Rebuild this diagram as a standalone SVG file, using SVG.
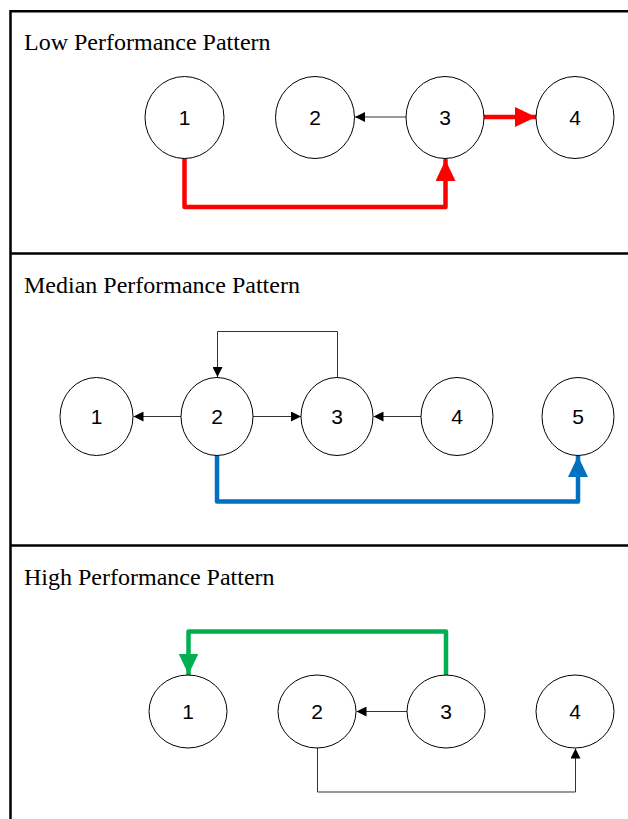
<svg xmlns="http://www.w3.org/2000/svg" width="628" height="819" viewBox="0 0 628 819">
<style>
.frame{stroke:#000;stroke-width:2.5;fill:none}
.title{font-family:"Liberation Serif","Times New Roman",serif;font-size:24px;fill:#000}
.node ellipse{fill:#fff;stroke:#000;stroke-width:1}
.node text{font-family:"Liberation Sans",Arial,sans-serif;font-size:21px;fill:#000;text-anchor:middle;dominant-baseline:central}
.thin{stroke:#333;stroke-width:1;fill:none}
.thick{stroke-width:4.5;fill:none;stroke-linejoin:round;stroke-linecap:round}
</style>
<defs>
<marker id="ab" viewBox="0 0 10 10" refX="10" refY="5" markerWidth="10" markerHeight="10" markerUnits="userSpaceOnUse" orient="auto"><path d="M0,0 L10,5 L0,10 z" fill="#000"/></marker>
<marker id="ar" viewBox="0 0 21 20" refX="21" refY="10" markerWidth="21" markerHeight="20" markerUnits="userSpaceOnUse" orient="auto"><path d="M0,0 L21,10 L0,20 z" fill="#FF0000"/></marker>
<marker id="abl" viewBox="0 0 21 20" refX="21" refY="10" markerWidth="21" markerHeight="20" markerUnits="userSpaceOnUse" orient="auto"><path d="M0,0 L21,10 L0,20 z" fill="#0070C0"/></marker>
<marker id="ag" viewBox="0 0 21 20" refX="21" refY="10" markerWidth="21" markerHeight="20" markerUnits="userSpaceOnUse" orient="auto"><path d="M0,0 L21,10 L0,20 z" fill="#00B050"/></marker>
</defs>
<g id="frame">
<path class="frame" d="M10.5,819 V11.3 H628"/>
<path class="frame" d="M10.5,253.5 H628"/>
<path class="frame" d="M10.5,545.5 H628"/>
</g>
<g id="titles">
<text class="title" x="24" y="50">Low Performance Pattern</text>
<text class="title" x="24" y="293">Median Performance Pattern</text>
<text class="title" x="24" y="585">High Performance Pattern</text>
</g>
<g id="connectors">
<line class="thin" x1="406" y1="117" x2="355" y2="117" marker-end="url(#ab)"/>
<line class="thick" stroke="#FF0000" x1="484" y1="117" x2="536" y2="117" marker-end="url(#ar)"/>
<path class="thick" stroke="#FF0000" d="M184.5,158 V207 H445.5 V160" marker-end="url(#ar)"/>
<line class="thin" x1="181" y1="416.5" x2="133.5" y2="416.5" marker-end="url(#ab)"/>
<line class="thin" x1="253" y1="416.5" x2="301" y2="416.5" marker-end="url(#ab)"/>
<line class="thin" x1="421" y1="416.5" x2="373.5" y2="416.5" marker-end="url(#ab)"/>
<path class="thin" d="M337.5,377.5 V331.5 H217.5 V377" marker-end="url(#ab)"/>
<path class="thick" stroke="#0070C0" d="M217,455 V501.5 H578 V456" marker-end="url(#abl)"/>
<line class="thin" x1="407" y1="711.5" x2="356.5" y2="711.5" marker-end="url(#ab)"/>
<path class="thin" d="M317.5,748 V792 H575.5 V748.5" marker-end="url(#ab)"/>
<path class="thick" stroke="#00B050" d="M446,674 V631.5 H188.5 V674.5" marker-end="url(#ag)"/>
</g>
<g id="low-1" class="node"><ellipse cx="184.5" cy="117.5" rx="39.5" ry="41"/><text x="184.5" y="117.5">1</text></g>
<g id="low-2" class="node"><ellipse cx="315" cy="117.5" rx="39.5" ry="41"/><text x="315" y="117.5">2</text></g>
<g id="low-3" class="node"><ellipse cx="445" cy="117.5" rx="39" ry="41"/><text x="445" y="117.5">3</text></g>
<g id="low-4" class="node"><ellipse cx="575" cy="117.5" rx="39" ry="41"/><text x="575" y="117.5">4</text></g>
<g id="med-1" class="node"><ellipse cx="96.5" cy="416.5" rx="36.5" ry="39"/><text x="96.5" y="416.5">1</text></g>
<g id="med-2" class="node"><ellipse cx="217" cy="416.5" rx="36" ry="39"/><text x="217" y="416.5">2</text></g>
<g id="med-3" class="node"><ellipse cx="337" cy="416.5" rx="36" ry="39"/><text x="337" y="416.5">3</text></g>
<g id="med-4" class="node"><ellipse cx="457" cy="416.5" rx="36" ry="39"/><text x="457" y="416.5">4</text></g>
<g id="med-5" class="node"><ellipse cx="578" cy="416.5" rx="36" ry="39"/><text x="578" y="416.5">5</text></g>
<g id="high-1" class="node"><ellipse cx="188" cy="711.5" rx="39" ry="36.5"/><text x="188" y="711.5">1</text></g>
<g id="high-2" class="node"><ellipse cx="317" cy="711.5" rx="39" ry="36.5"/><text x="317" y="711.5">2</text></g>
<g id="high-3" class="node"><ellipse cx="446" cy="711.5" rx="39" ry="36.5"/><text x="446" y="711.5">3</text></g>
<g id="high-4" class="node"><ellipse cx="575" cy="711.5" rx="39" ry="36.5"/><text x="575" y="711.5">4</text></g>
</svg>
